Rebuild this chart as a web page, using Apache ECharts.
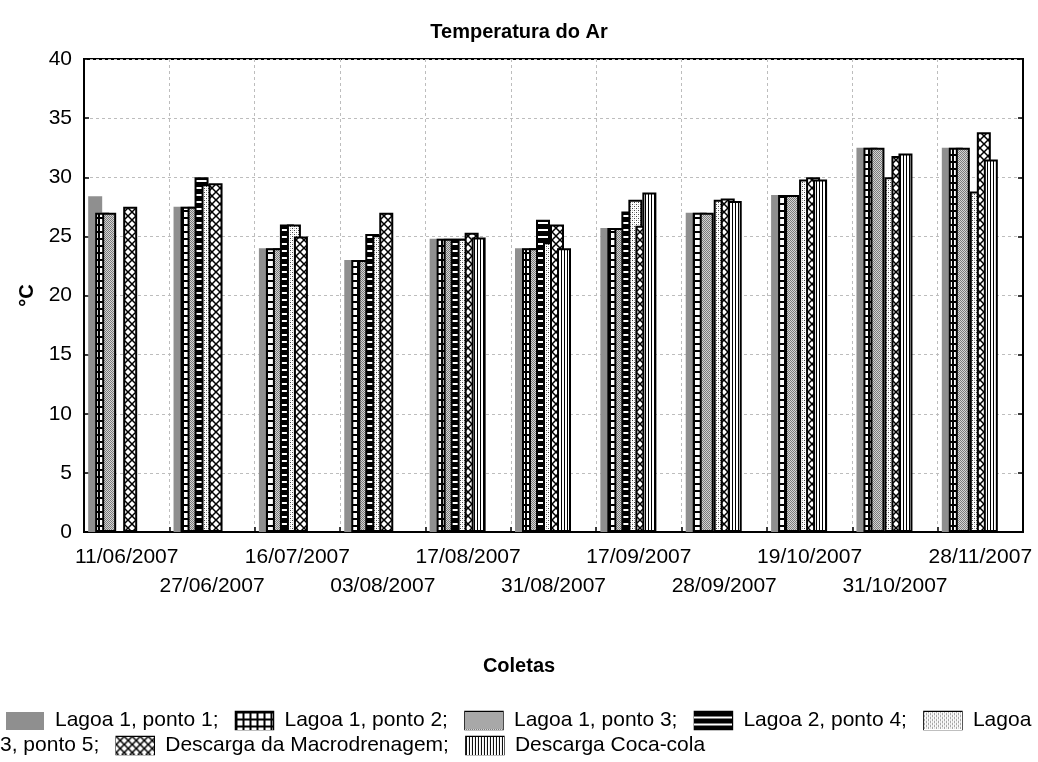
<!DOCTYPE html>
<html><head><meta charset="utf-8">
<script src="https://cdn.jsdelivr.net/npm/echarts@6/dist/echarts.min.js"></script>
<style>html,body{margin:0;padding:0;background:#fff}#c{width:1038px;height:762px}</style>
</head><body><div id="c"></div>
<script>
// ---- data ----
const categories = ['11/06/2007','27/06/2007','16/07/2007','03/08/2007','17/08/2007','31/08/2007','17/09/2007','28/09/2007','19/10/2007','31/10/2007','28/11/2007'];
const seriesNames = ['Lagoa 1, ponto 1','Lagoa 1, ponto 2','Lagoa 1, ponto 3','Lagoa 2, ponto 4','Lagoa 3, ponto 5','Descarga da Macrodrenagem','Descarga Coca-cola'];
const lagoa1Ponto1 = [28.4, 27.5, 24.0, 23.0, 24.8, 24.0, 25.7, 27.0, 28.5, 32.5, 32.5];
const lagoa1Ponto2 = [27.0, 27.5, 24.0, 23.0, 24.8, 24.0, 25.7, 27.0, 28.5, 32.5, 32.5];
const lagoa1Ponto3 = [27.0, 27.5, 24.0, 23.0, 24.8, 24.0, 25.7, 27.0, 28.5, 32.5, 32.5];
const lagoa2Ponto4 = [null, 30.0, 26.0, 25.2, 24.8, 26.4, 27.1, null, null, null, null];
const lagoa3Ponto5 = [null, 29.4, 26.0, 25.1, 24.8, 24.5, 28.1, 28.1, 29.8, 30.0, 28.8];
const macrodrenagem = [27.5, 29.5, 25.0, 27.0, 25.3, 26.0, 25.9, 28.2, 30.0, 31.8, 33.8];
const cocaCola = [null, null, null, null, 24.9, 24.0, 28.7, 28.0, 29.8, 32.0, 31.5];
const yMin = 0, yMax = 40, yInterval = 5;
const chartTitle = 'Temperatura do Ar';
const xTitle = 'Coletas';
const yTitle = '°C';

const seriesValues = [lagoa1Ponto1, lagoa1Ponto2, lagoa1Ponto3, lagoa2Ponto4, lagoa3Ponto5, macrodrenagem, cocaCola];
const patternKinds = ['solid', 'grid', 'dense', 'hstripe', 'dots', 'cross', 'vstripe'];

// ---- patterns ----
function makeTile(kind) {
  const c = document.createElement('canvas');
  let ctx;
  const set = (w, h) => { c.width = w; c.height = h; ctx = c.getContext('2d'); ctx.fillStyle = '#fff'; ctx.fillRect(0, 0, w, h); };
  switch (kind) {
    case 'solid': set(2, 2); ctx.fillStyle = '#8f8f8f'; ctx.fillRect(0, 0, 2, 2); break;
    case 'grid': set(7, 7); ctx.fillStyle = '#000'; ctx.fillRect(0, 0, 7, 2); ctx.fillRect(0, 0, 2, 7); break;
    case 'dense': set(2, 2); ctx.fillStyle = '#7c7c7c'; ctx.fillRect(0, 0, 1, 1); ctx.fillRect(1, 1, 1, 1); ctx.fillStyle = '#d4d4d4'; ctx.fillRect(1, 0, 1, 1); ctx.fillRect(0, 1, 1, 1); break;
    case 'hstripe': set(2, 7); ctx.fillStyle = '#000'; ctx.fillRect(0, 0, 2, 5); break;
    case 'dots': set(4, 4); ctx.fillStyle = '#444'; ctx.fillRect(0, 0, 1, 1); ctx.fillRect(2, 2, 1, 1); ctx.fillStyle = '#bbb'; ctx.fillRect(2, 0, 1, 1); ctx.fillRect(0, 2, 1, 1); break;
    case 'cross': set(8, 8); ctx.strokeStyle = '#000'; ctx.lineWidth = 1.5; ctx.beginPath(); ctx.moveTo(-1, -1); ctx.lineTo(9, 9); ctx.moveTo(9, -1); ctx.lineTo(-1, 9); ctx.stroke(); break;
    case 'vstripe': set(3, 2); ctx.fillStyle = '#000'; ctx.fillRect(0, 0, 1, 2); break;
  }
  return c;
}
function makeSwatch(kind, w, h) {
  const c = document.createElement('canvas');
  c.width = w; c.height = h;
  const ctx = c.getContext('2d');
  ctx.fillStyle = ctx.createPattern(makeTile(kind), 'repeat');
  ctx.fillRect(0, 0, w, h);
  return c;
}

const FONT = '"Liberation Sans", Arial, sans-serif';
const series = seriesNames.map((name, i) => ({
  type: 'bar',
  name,
  data: seriesValues[i],
  barWidth: 14,
  barGap: '-50%',
  itemStyle: {
    color: { image: makeTile(patternKinds[i]), repeat: 'repeat' },
    borderColor: '#000',
    borderWidth: patternKinds[i] === 'solid' ? 0 : 2
  },
  emphasis: { disabled: true },
  silent: true
}));
// empty slots so the group sits at the left of each category, as in the original
for (let k = 0; k < 3; k++) {
  series.push({ type: 'bar', name: '', data: categories.map(() => null), barWidth: 14, barGap: '-50%', silent: true });
}

// ---- legend (wrapped text with pattern swatches) ----
const rich = {
  p: { width: 6 },
  a: { width: 11 },
  g: { width: 17 }
};
patternKinds.forEach((k, i) => {
  rich['s' + i] = {
    width: 38, height: 18,
    backgroundColor: { image: makeSwatch(k, 38, 18) },
    borderColor: k === 'solid' ? 'transparent' : '#000',
    borderWidth: k === 'solid' ? 0 : 1.5
  };
});
const item = i => `{s${i}| }{a| }${seriesNames[i]}`;
const wrapName = seriesNames[4].split(' ');
const legendText =
  '{p| }' + [0, 1, 2, 3].map(i => item(i) + ';{g| }').join('') +
  `{s4| }{a| }` + wrapName[0] + '\n' +
  wrapName.slice(1).join(' ') + ';{g| }' + item(5) + ';{g| }' + item(6);

const chart = echarts.init(document.getElementById('c'), null, { renderer: 'canvas' });
chart.setOption({
  animation: false,
  backgroundColor: '#fff',
  textStyle: { fontFamily: FONT, color: '#000' },
  title: [
    { text: chartTitle, left: 'center', top: 17, textStyle: { fontFamily: FONT, fontSize: 20, fontWeight: 'bold', color: '#000' } },
    { text: xTitle, left: 'center', top: 651, textStyle: { fontFamily: FONT, fontSize: 20, fontWeight: 'bold', color: '#000' } }
  ],
  grid: { left: 84, right: 15, top: 59, bottom: 230, show: true, borderColor: '#000', borderWidth: 2, backgroundColor: 'transparent' },
  xAxis: {
    type: 'category',
    data: categories,
    boundaryGap: true,
    axisLine: { lineStyle: { color: '#000', width: 2 } },
    axisTick: { show: true, inside: true, length: 5, lineStyle: { color: '#000', width: 1.5 } },
    axisLabel: {
      interval: 0, margin: 11, fontSize: 21, fontFamily: FONT, color: '#000', lineHeight: 29,
      formatter: (v, i) => (i % 2 ? '\n' + v : v)
    },
    splitLine: { show: true, lineStyle: { color: '#bdbdbd', type: [3, 3], width: 1 } }
  },
  yAxis: [
    {
      type: 'value', min: yMin, max: yMax, interval: yInterval,
      axisLine: { show: true, lineStyle: { color: '#000', width: 2 } },
      axisTick: { show: true, inside: true, length: 5, lineStyle: { color: '#000', width: 1.5 } },
      axisLabel: { fontSize: 21, fontFamily: FONT, color: '#000', margin: 12 },
      splitLine: { show: true, lineStyle: { color: '#bdbdbd', type: [3, 3], width: 1 } },
      name: yTitle, nameLocation: 'middle', nameGap: 46,
      nameTextStyle: { fontSize: 20, fontWeight: 'bold', fontFamily: FONT, color: '#000' }
    },
    {
      type: 'value', position: 'right', min: yMin, max: yMax, interval: yInterval,
      axisLine: { show: true, lineStyle: { color: '#000', width: 2 } },
      axisTick: { show: true, inside: true, length: 5, lineStyle: { color: '#000', width: 1.5 } },
      axisLabel: { show: false },
      splitLine: { show: false }
    }
  ],
  series,
  graphic: [{
    type: 'text', left: 0, top: 708, silent: true,
    style: { text: legendText, fontSize: 21, fontFamily: FONT, fill: '#000', lineHeight: 25, rich }
  }]
});
</script>
</body></html>
